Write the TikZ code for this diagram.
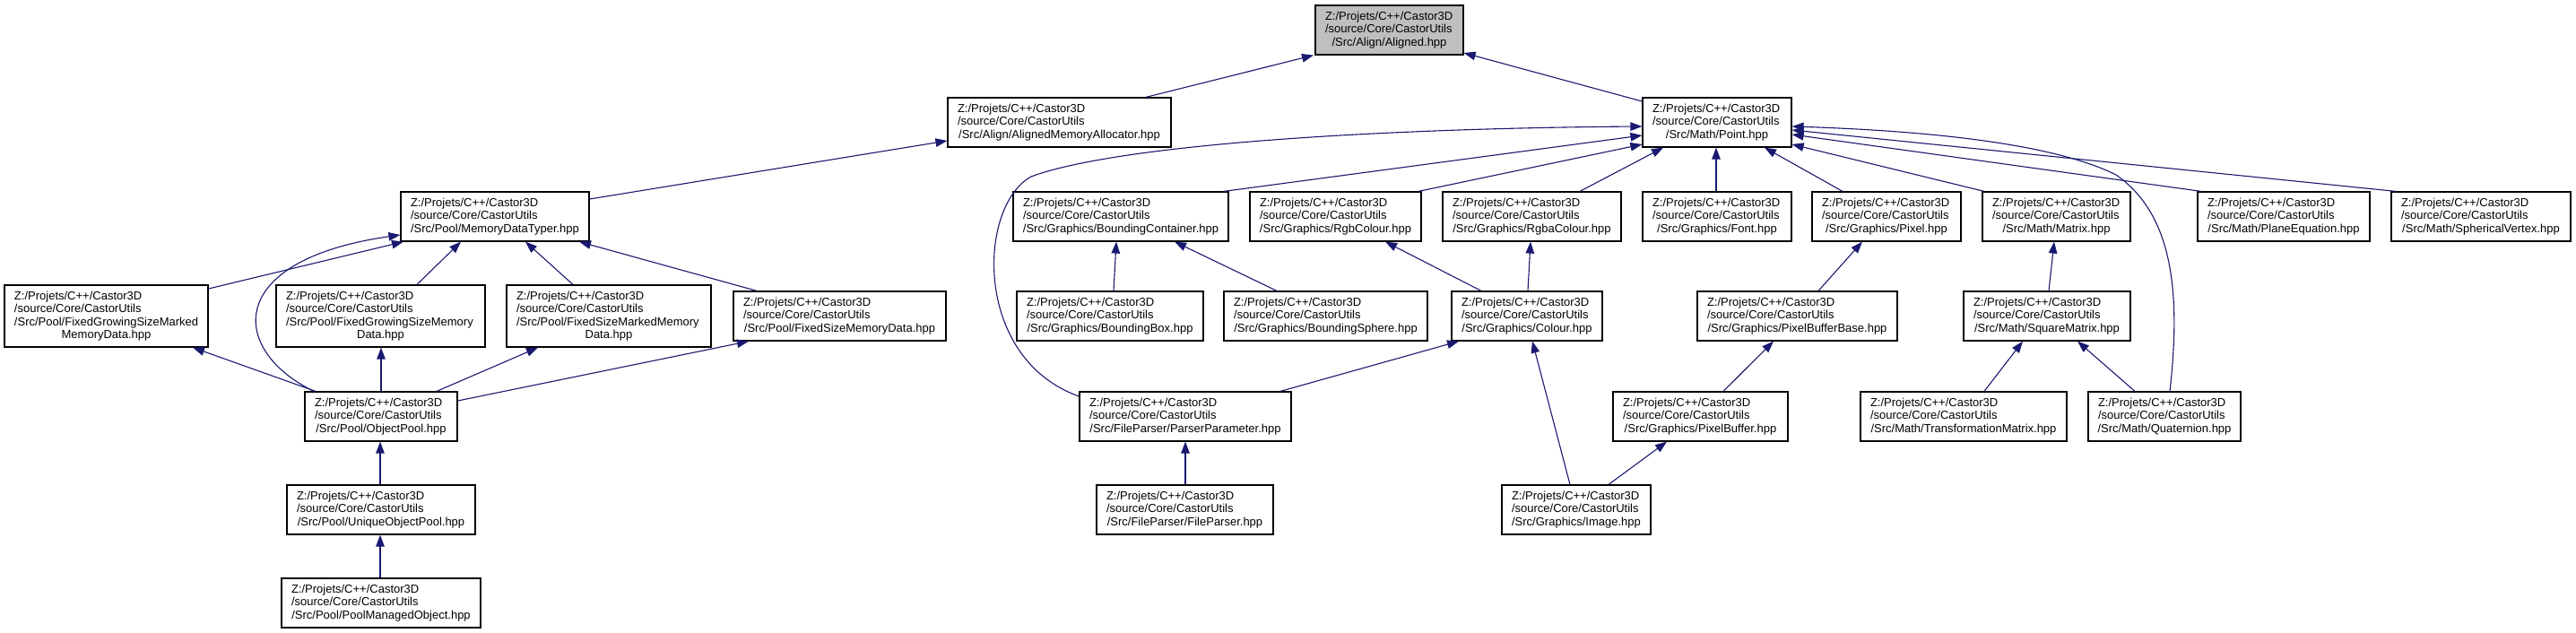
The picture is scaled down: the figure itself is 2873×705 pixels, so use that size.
\documentclass[tikz,border=0pt]{standalone}
\usepackage{fontspec}
\setmainfont{Liberation Sans}
\usetikzlibrary{arrows.meta}
\definecolor{edgeblue}{HTML}{191970}
\definecolor{rootgray}{HTML}{BFBFBF}
\newcommand\hdrlines{Z:/Projets/C++/Castor3D\\/source/Core/CastorUtils\\}
\newcommand\lastln[1]{\hbox to\linewidth{\hss#1\hss}}
\newcommand\dxnode[7][]{%
  \pgfmathsetmacro\dxW{#5-#3}%
  \pgfmathsetmacro\dxH{#6-#4}%
  \pgfmathsetmacro\dxT{#5-#3-22}%
  \pgfmathsetmacro\dxX{(#3+#5)/2}%
  \pgfmathsetmacro\dxY{-(#4+#6)/2}%
  \node[filebox,#1,minimum width=\dxW pt,minimum height=\dxH pt,text width=\dxT pt] (#2) at (\dxX,\dxY) {#7};%
}
\begin{document}
\begin{tikzpicture}[x=1pt,y=1pt,
  filebox/.style={draw=black,line width=1.2pt,fill=white,inner xsep=11pt,inner ysep=0pt,align=left,
    font={\fontsize{13pt}{14.4pt}\selectfont\hyphenpenalty=10000\exhyphenpenalty=10000}},
  rootbox/.style={fill=rootgray},
  dep/.style={draw=edgeblue,line width=1.1pt,-{Triangle[length=13pt,width=9.5pt,fill=edgeblue]}}]
\useasboundingbox (0,0) rectangle (2873,-705);
\fill[white] (0,0) rectangle (2873,-705);
% row 1
\dxnode[rootbox]{aligned}{1467}{6}{1632}{61}{\hdrlines\lastln{/Src/Align/Aligned.hpp}}
% row 2
\dxnode{alloc}{1057}{109}{1306}{164}{\hdrlines\lastln{/Src/Align/AlignedMemoryAllocator.hpp}}
\dxnode{point}{1832}{109}{1998}{164}{\hdrlines\lastln{/Src/Math/Point.hpp}}
% row 3
\dxnode{mdt}{447}{214}{657}{269}{\hdrlines\lastln{/Src/Pool/MemoryDataTyper.hpp}}
\dxnode{bcont}{1130}{214}{1370}{269}{\hdrlines\lastln{/Src/Graphics/BoundingContainer.hpp}}
\dxnode{rgb}{1394}{214}{1585}{269}{\hdrlines\lastln{/Src/Graphics/RgbColour.hpp}}
\dxnode{rgba}{1609}{214}{1808}{269}{\hdrlines\lastln{/Src/Graphics/RgbaColour.hpp}}
\dxnode{font}{1832}{214}{1998}{269}{\hdrlines\lastln{/Src/Graphics/Font.hpp}}
\dxnode{pixel}{2021}{214}{2187}{269}{\hdrlines\lastln{/Src/Graphics/Pixel.hpp}}
\dxnode{matrix}{2211}{214}{2376}{269}{\hdrlines\lastln{/Src/Math/Matrix.hpp}}
\dxnode{plane}{2451}{214}{2643}{269}{\hdrlines\lastln{/Src/Math/PlaneEquation.hpp}}
\dxnode{sph}{2667}{214}{2867}{269}{\hdrlines\lastln{/Src/Math/SphericalVertex.hpp}}
% row 4
\dxnode{fgsmmd}{5}{318}{232}{387}{\hdrlines/Src/Pool/FixedGrowingSizeMarked\\\lastln{MemoryData.hpp}}
\dxnode{fgsmd}{308}{318}{541}{387}{\hdrlines/Src/Pool/FixedGrowingSizeMemory\\\lastln{Data.hpp}}
\dxnode{fsmmd}{565}{318}{793}{387}{\hdrlines/Src/Pool/FixedSizeMarkedMemory\\\lastln{Data.hpp}}
\dxnode{fsmd}{818}{325}{1055}{380}{\hdrlines\lastln{/Src/Pool/FixedSizeMemoryData.hpp}}
\dxnode{bbox}{1134}{325}{1342}{380}{\hdrlines\lastln{/Src/Graphics/BoundingBox.hpp}}
\dxnode{bsphere}{1365}{325}{1592}{380}{\hdrlines\lastln{/Src/Graphics/BoundingSphere.hpp}}
\dxnode{colour}{1619}{325}{1787}{380}{\hdrlines\lastln{/Src/Graphics/Colour.hpp}}
\dxnode{pbb}{1893}{325}{2116}{380}{\hdrlines\lastln{/Src/Graphics/PixelBufferBase.hpp}}
\dxnode{sqm}{2190}{325}{2376}{380}{\hdrlines\lastln{/Src/Math/SquareMatrix.hpp}}
% row 5
\dxnode{objpool}{340}{437}{510}{492}{\hdrlines\lastln{/Src/Pool/ObjectPool.hpp}}
\dxnode{parserparam}{1204}{437}{1440}{492}{\hdrlines\lastln{/Src/FileParser/ParserParameter.hpp}}
\dxnode{pixelbuffer}{1799}{437}{1994}{492}{\hdrlines\lastln{/Src/Graphics/PixelBuffer.hpp}}
\dxnode{transform}{2075}{437}{2305}{492}{\hdrlines\lastln{/Src/Math/TransformationMatrix.hpp}}
\dxnode{quaternion}{2329}{437}{2499}{492}{\hdrlines\lastln{/Src/Math/Quaternion.hpp}}
% row 6
\dxnode{uniquepool}{320}{541}{530}{596}{\hdrlines\lastln{/Src/Pool/UniqueObjectPool.hpp}}
\dxnode{fileparser}{1223}{541}{1420}{596}{\hdrlines\lastln{/Src/FileParser/FileParser.hpp}}
\dxnode{image}{1675}{541}{1841}{596}{\hdrlines\lastln{/Src/Graphics/Image.hpp}}
% row 7
\dxnode{poolmanaged}{314}{645}{536}{700}{\hdrlines\lastln{/Src/Pool/PoolManagedObject.hpp}}
% edges
\draw[dep] (1278,0 |- alloc.north) -- (1465,0 |- aligned.south);
\draw[dep] (point.west |- 0,-113) -- (aligned.east |- 0,-59);
\draw[dep] (mdt.east |- 0,-222) -- (alloc.west |- 0,-157);
\draw[dep] (fgsmmd.east |- 0,-322) -- (450,0 |- mdt.south);
\draw[dep] (350,0 |- objpool.north) .. controls (255,-390) and (250,-290) .. (mdt.west |- 0,-262);
\draw[dep] (465,0 |- fgsmd.north) -- (514,0 |- mdt.south);
\draw[dep] (639,0 |- fsmmd.north) -- (586,0 |- mdt.south);
\draw[dep] (844,0 |- fsmd.north) -- (646,0 |- mdt.south);
\draw[dep] (352,0 |- objpool.north) -- (215,0 |- fgsmmd.south);
\draw[dep] (425,0 |- objpool.north) -- (425,0 |- fgsmd.south);
\draw[dep] (487,0 |- objpool.north) -- (600,0 |- fsmmd.south);
\draw[dep] (objpool.east |- 0,-447) -- (835,0 |- fsmd.south);
\draw[dep] (424,0 |- uniquepool.north) -- (424,0 |- objpool.south);
\draw[dep] (424,0 |- poolmanaged.north) -- (424,0 |- uniquepool.south);
\draw[dep] (1365,0 |- bcont.north) -- (point.west |- 0,-151);
\draw[dep] (1582,0 |- rgb.north) -- (point.west |- 0,-161);
\draw[dep] (1762,0 |- rgba.north) -- (1855,0 |- point.south);
\draw[dep] (1914,0 |- font.north) -- (1914,0 |- point.south);
\draw[dep] (2055,0 |- pixel.north) -- (1968,0 |- point.south);
\draw[dep] (2213,0 |- matrix.north) -- (point.east |- 0,-161);
\draw[dep] (2455,0 |- plane.north) -- (point.east |- 0,-150);
\draw[dep] (2672,0 |- sph.north) -- (point.east |- 0,-145);
\draw[dep] (2420,0 |- quaternion.north) .. controls (2432,-330) and (2425,-240) .. (2360,-195) .. controls (2290,-160) and (2150,-146) .. (point.east |- 0,-141);
\draw[dep] (parserparam.west |- 0,-442) .. controls (1085,-400) and (1090,-230) .. (1150,-197) .. controls (1250,-160) and (1550,-143) .. (point.west |- 0,-141);
\draw[dep] (1242,0 |- bbox.north) -- (1245,0 |- bcont.south);
\draw[dep] (1424,0 |- bsphere.north) -- (1310,0 |- bcont.south);
\draw[dep] (1652,0 |- colour.north) -- (1545,0 |- rgb.south);
\draw[dep] (1704,0 |- colour.north) -- (1707,0 |- rgba.south);
\draw[dep] (1428,0 |- parserparam.north) -- (1627,0 |- colour.south);
\draw[dep] (1751,0 |- image.north) -- (1709,0 |- colour.south);
\draw[dep] (1794,0 |- image.north) -- (1859,0 |- pixelbuffer.south);
\draw[dep] (1322,0 |- fileparser.north) -- (1322,0 |- parserparam.south);
\draw[dep] (1922,0 |- pixelbuffer.north) -- (1978,0 |- pbb.south);
\draw[dep] (2028,0 |- pbb.north) -- (2077,0 |- pixel.south);
\draw[dep] (2285,0 |- sqm.north) -- (2291,0 |- matrix.south);
\draw[dep] (2213,0 |- transform.north) -- (2256,0 |- sqm.south);
\draw[dep] (2381,0 |- quaternion.north) -- (2317,0 |- sqm.south);
\end{tikzpicture}
\end{document}
